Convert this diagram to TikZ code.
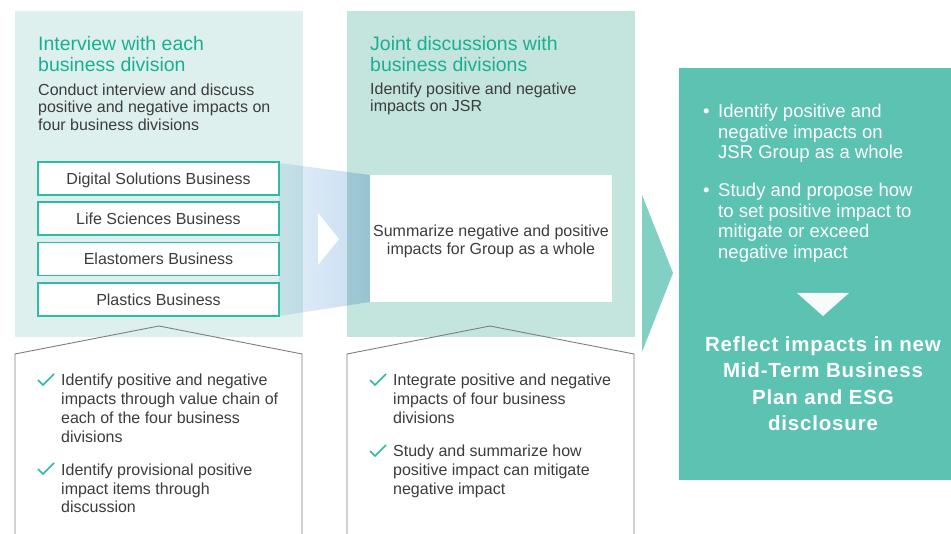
\documentclass[tikz,border=0pt]{standalone}
\usepackage{fontspec}
\setmainfont{Liberation Sans}
\newfontfamily\reflectfont{Liberation Sans}[LetterSpace=4]
\definecolor{panelA}{HTML}{DDF0EE}
\definecolor{panelB}{HTML}{C4E4DE}
\definecolor{panelC}{HTML}{5CC2B2}
\definecolor{bigarrow}{HTML}{82CFC3}
\definecolor{titleteal}{HTML}{1AAF93}
\definecolor{bodygray}{HTML}{3C3C3C}
\definecolor{boxteal}{HTML}{2DBBA6}
\definecolor{outlinegray}{HTML}{7F7F7F}
\definecolor{funnelL}{HTML}{E4EFF8}
\definecolor{funnelR}{HTML}{C6DCF2}
\begin{document}
\begin{tikzpicture}[x=1pt,y=-1pt,
  panel/.style={anchor=north west, inner sep=0, outer sep=0, draw=none},
  titletext/.style={anchor=base west, inner sep=0, align=left, text=titleteal, font=\fontsize{19.5}{20.5}\selectfont},
  bodytext/.style={anchor=base west, inner sep=0, align=left, text=bodygray, font=\fontsize{16}{17.5}\selectfont},
  bizbox/.style={draw=boxteal, line width=1.2pt, fill=white, minimum width=241, minimum height=33, inner sep=0, text height=11.5pt, text depth=0pt, text=bodygray, font=\fontsize{16}{18}\selectfont},
  listtext/.style={anchor=base west, inner sep=0, align=left, text=bodygray, font=\fontsize{16}{19}\selectfont},
  whitetext/.style={anchor=base west, inner sep=0, align=left, text=white, font=\fontsize{18.5}{20.5}\selectfont},
  outl/.style={draw=outlinegray, line width=0.9pt},
  chk/.pic={\draw[boxteal, line width=1.5pt] (-8,0) -- (-3,5) -- (8,-6);}
]
\useasboundingbox (0,0) rectangle (951,534);
\fill[white] (0,0) rectangle (951,534);

% panels
\node[panel, fill=panelA, minimum width=288, minimum height=326] (p1) at (15,11) {};
\node[panel, fill=panelB, minimum width=288, minimum height=326] (p2) at (347,11) {};
\node[panel, fill=panelC, minimum width=272, minimum height=412] (p3) at (679,68) {};

% lower outlines
\draw[outl] (15,534) -- (15,354) -- (159,326) -- (302,354) -- (302,534);
\draw[outl] (347,534) -- (347,354) -- (490,326) -- (634,354) -- (634,534);

% funnel
\shade[left color=funnelL, right color=funnelR, blend mode=multiply]
  (279,163) -- (370,175) -- (370,302) -- (279,316) -- cycle;
\fill[white] (318,213) -- (339,239) -- (318,265) -- cycle;

% big arrow
\fill[bigarrow] (642,195) -- (673,273) -- (642,352) -- cycle;

% panel 1 texts (anchor = baseline of last line)
\node[titletext] (t1) at (38,71.5) {Interview with each\\business division};
\node[bodytext] (d1) at (38,130.5) {Conduct interview and discuss\\positive and negative impacts on\\four business divisions};
\node[bizbox] (b1) at (158.5,178.5) {Digital Solutions Business};
\node[bizbox] (b2) at (158.5,218.5) {Life Sciences Business};
\node[bizbox] (b3) at (158.5,259) {Elastomers Business};
\node[bizbox] (b4) at (158.5,299.5) {Plastics Business};

% panel 2 texts
\node[titletext] (t2) at (370,71.5) {Joint discussions with\\business divisions};
\node[bodytext] (d2) at (370,112) {Identify positive and negative\\impacts on JSR};
\node[fill=white, minimum width=242, minimum height=127, inner sep=0] (sum) at (491,238.5) {};
\node[anchor=base, inner sep=0, align=center, text=bodygray, font=\fontsize{16}{18}\selectfont] (sumtext) at (491,255) {Summarize negative and positive\\impacts for Group as a whole};

% panel 3 texts
\node[whitetext] (bul1) at (703,118) {•};
\node[whitetext] (w1) at (718,159) {Identify positive and\\negative impacts on\\JSR Group as a whole};
\node[whitetext] (bul2) at (703,197) {•};
\node[whitetext] (w2) at (718,258.5) {Study and propose how\\to set positive impact to\\mitigate or exceed\\negative impact};
\fill[white!95!panelC] (797,293) -- (849,293) -- (823,316) -- cycle;
\node[anchor=base, inner sep=0, align=center, text=white, font=\reflectfont\bfseries\fontsize{20.5}{26.5}\selectfont] (refl) at (823,431) {Reflect impacts in new\\Mid-Term Business\\Plan and ESG\\disclosure};

% lower lists
\pic at (46,380) {chk};
\node[listtext] (l1) at (61,443) {Identify positive and negative\\impacts through value chain of\\each of the four business\\divisions};
\pic at (46,469) {chk};
\node[listtext] (l2) at (61,513) {Identify provisional positive\\impact items through\\discussion};
\pic at (378,380) {chk};
\node[listtext] (l3) at (393,424) {Integrate positive and negative\\impacts of four business\\divisions};
\pic at (378,451) {chk};
\node[listtext] (l4) at (393,495) {Study and summarize how\\positive impact can mitigate\\negative impact};
\end{tikzpicture}
\end{document}
